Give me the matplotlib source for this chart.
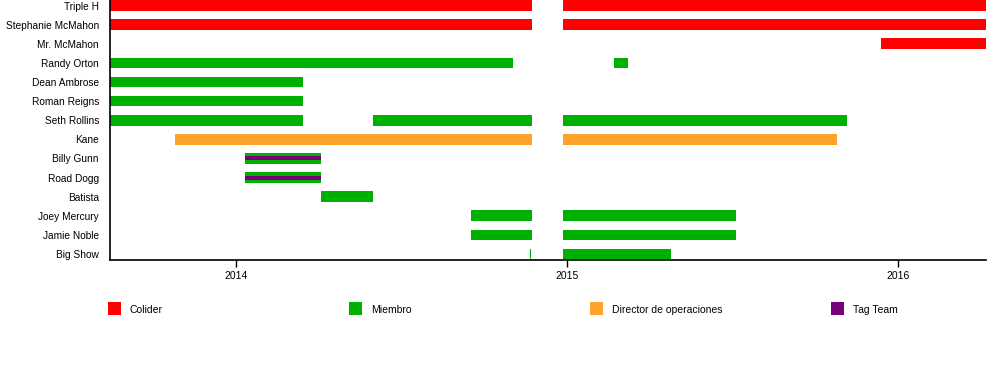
import matplotlib
matplotlib.use("Agg")
import matplotlib.pyplot as plt
from matplotlib.patches import Rectangle

plt.rcParams['font.family'] = ['Liberation Sans', 'DejaVu Sans']

# rows, top to bottom
names = ["Triple H", "Stephanie McMahon", "Mr. McMahon", "Randy Orton",
         "Dean Ambrose", "Roman Reigns", "Seth Rollins", "Kane", "Billy Gunn",
         "Road Dogg", "Batista", "Joey Mercury", "Jamie Noble", "Big Show"]

start, end = 2013.62, 2016.265

# (row, role, from, to) in decimal years
spans = [
    (0, "Colider", start, 2014.894), (0, "Colider", 2014.987, end),
    (1, "Colider", start, 2014.894), (1, "Colider", 2014.987, end),
    (2, "Colider", 2015.948, end),
    (3, "Miembro", start, 2014.836), (3, "Miembro", 2015.142, 2015.183),
    (4, "Miembro", start, 2014.204),
    (5, "Miembro", start, 2014.204),
    (6, "Miembro", start, 2014.204), (6, "Miembro", 2014.413, 2014.894),
    (6, "Miembro", 2014.987, 2015.845),
    (7, "Director de operaciones", 2013.816, 2014.894),
    (7, "Director de operaciones", 2014.987, 2015.815),
    (8, "Miembro", 2014.027, 2014.258),
    (9, "Miembro", 2014.027, 2014.258),
    (10, "Miembro", 2014.258, 2014.415),
    (11, "Miembro", 2014.710, 2014.894), (11, "Miembro", 2014.987, 2015.510),
    (12, "Miembro", 2014.710, 2014.894), (12, "Miembro", 2014.987, 2015.510),
    (13, "Miembro", 2014.889, 2014.892), (13, "Miembro", 2014.987, 2015.315),
]
# thin overlay stripes
tag_spans = [(8, 2014.027, 2014.258), (9, 2014.027, 2014.258)]

roles = ["Colider", "Miembro", "Director de operaciones", "Tag Team"]
colors = {"Colider": "#ff0000", "Miembro": "#00b000",
          "Director de operaciones": "#ffa22b", "Tag Team": "#78007a"}

fig = plt.figure(figsize=(10, 3.8), dpi=100)
ax = fig.add_axes([0.11, 1 - 260 / 380, 0.876, 260 / 380])

for row, role, a, b in spans:
    ax.barh(row, b - a, left=a, height=0.56, color=colors[role], linewidth=0)
for row, a, b in tag_spans:
    ax.barh(row, b - a, left=a, height=0.21, color=colors["Tag Team"], linewidth=0)

ax.set_xlim(start, end)
ax.set_ylim(13.31, -0.29)
ax.set_yticks(range(len(names)))
ax.set_yticklabels(names, fontsize=7.3)
ax.tick_params(axis='y', length=0, pad=8)
ax.set_xticks([2014, 2015, 2016])
ax.set_xticklabels(["2014", "2015", "2016"], fontsize=7.5)
ax.tick_params(axis='x', length=5, width=1, direction='out', pad=3)
ax.spines['top'].set_visible(False)
ax.spines['right'].set_visible(False)
for s in ('left', 'bottom'):
    ax.spines[s].set_linewidth(1.2)

# legend
for i, role in enumerate(roles):
    x0 = (108 + 241 * i) / 1000
    fig.add_artist(Rectangle((x0, 1 - 315 / 380), 13 / 1000, 13 / 380,
                             transform=fig.transFigure, color=colors[role], lw=0))
    fig.text(x0 + 22 / 1000, 1 - 310 / 380, role, fontsize=7.5, va='center', ha='left')

fig.savefig("out.png", dpi=100)
